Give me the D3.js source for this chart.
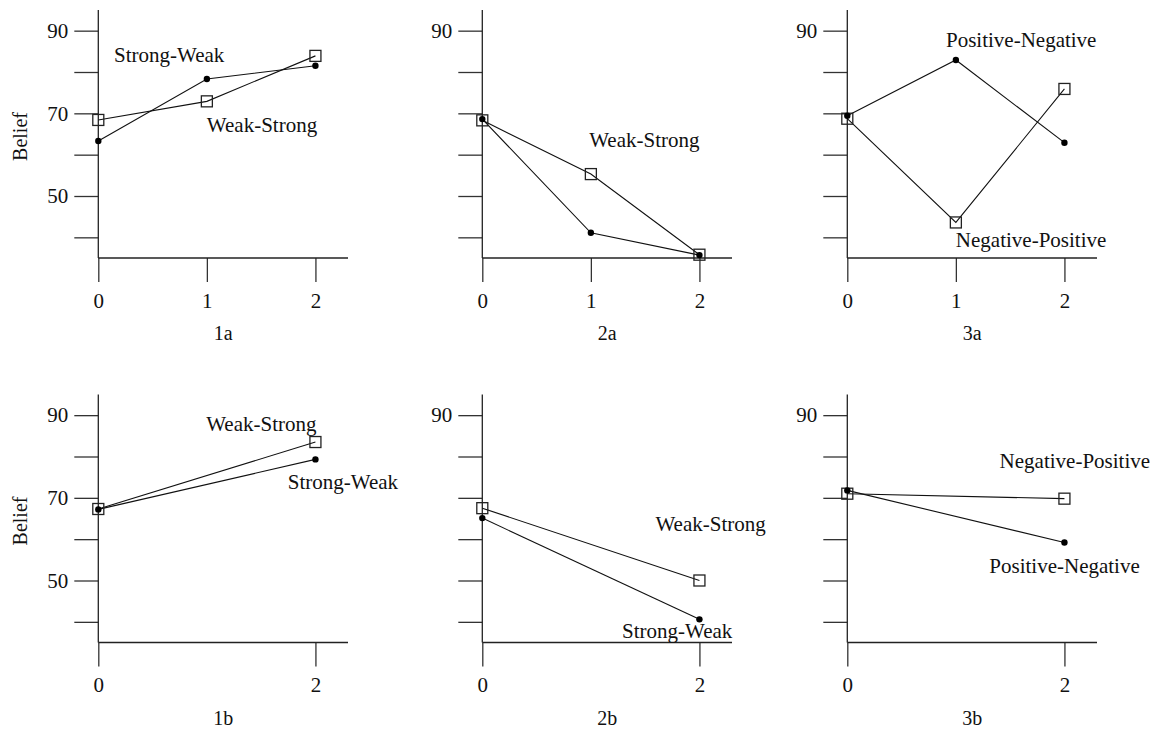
<!DOCTYPE html>
<html>
<head>
<meta charset="utf-8">
<script src="https://cdn.jsdelivr.net/npm/d3@7"></script>
<style>
  html, body { margin: 0; padding: 0; background: #fff; }
  svg { display: block; }
  text { font-family: "Liberation Serif", "Times New Roman", serif; fill: #111; }
</style>
</head>
<body>
<svg id="chart" width="1165" height="731"></svg>
<script>
// ---- data ----
const xTop = [0, 1, 2];
const xBottom = [0, 2];
const yTickValues = [40, 50, 60, 70, 80, 90];
const panelNames = ["1a", "2a", "3a", "1b", "2b", "3b"];

const p1aStrongWeak = [63.3, 78.3, 81.5];
const p1aWeakStrong = [68.4, 72.9, 83.9];
const p2aStrongWeak = [68.6, 41.1, 35.7];
const p2aWeakStrong = [68.3, 55.3, 35.8];
const p3aPositiveNegative = [69.4, 82.9, 62.9];
const p3aNegativePositive = [68.7, 43.6, 75.9];
const p1bStrongWeak = [67.2, 79.3];
const p1bWeakStrong = [67.3, 83.5];
const p2bStrongWeak = [65.1, 40.6];
const p2bWeakStrong = [67.5, 50.0];
const p3bPositiveNegative = [71.8, 59.2];
const p3bNegativePositive = [71.0, 69.8];

// label anchors in data units [text, x, y]
const p1aLabels = [["Strong-Weak", 0.145, 82.35], ["Weak-Strong", 1.0, 65.55]];
const p2aLabels = [["Weak-Strong", 0.985, 61.9]];
const p3aLabels = [["Positive-Negative", 0.909, 86.1], ["Negative-Positive", 1.0, 37.7]];
const p1bLabels = [["Weak-Strong", 0.994, 86.2], ["Strong-Weak", 1.745, 72.1]];
const p2bLabels = [["Weak-Strong", 1.595, 62.05], ["Strong-Weak", 1.287, 36.0]];
const p3bLabels = [["Negative-Positive", 1.403, 77.1], ["Positive-Negative", 1.308, 51.9]];

// ---- layout ----
const svg = d3.select("#chart");
const colX = [98.3, 482.3, 847.3];
const rowY = [0, 384.5];
const plotW = 249.7, plotTop = 10, plotBottom = 258;

const panels = [
  { name: panelNames[0], col: 0, row: 0, xs: xTop, circ: p1aStrongWeak, sq: p1aWeakStrong, labels: p1aLabels, yLabels: [90, 70, 50], belief: true },
  { name: panelNames[1], col: 1, row: 0, xs: xTop, circ: p2aStrongWeak, sq: p2aWeakStrong, labels: p2aLabels, yLabels: [90] },
  { name: panelNames[2], col: 2, row: 0, xs: xTop, circ: p3aPositiveNegative, sq: p3aNegativePositive, labels: p3aLabels, yLabels: [90] },
  { name: panelNames[3], col: 0, row: 1, xs: xBottom, circ: p1bStrongWeak, sq: p1bWeakStrong, labels: p1bLabels, yLabels: [90, 70, 50], belief: true },
  { name: panelNames[4], col: 1, row: 1, xs: xBottom, circ: p2bStrongWeak, sq: p2bWeakStrong, labels: p2bLabels, yLabels: [90] },
  { name: panelNames[5], col: 2, row: 1, xs: xBottom, circ: p3bPositiveNegative, sq: p3bNegativePositive, labels: p3bLabels, yLabels: [90] }
];

const FS = 21;

panels.forEach(p => {
  const g = svg.append("g").attr("transform", `translate(${colX[p.col]},${rowY[p.row]})`);
  const x = d3.scaleLinear().domain([0, 2.3]).range([0, plotW]);
  const y = d3.scaleLinear().domain([35, 95]).range([plotBottom, plotTop]);

  // y axis
  const yAxis = d3.axisLeft(y).tickValues(yTickValues).tickSize(24).tickPadding(6)
    .tickFormat(v => p.yLabels.includes(v) ? String(v) : "");
  const ga = g.append("g").call(yAxis);
  ga.select(".domain").remove();
  ga.selectAll(".tick line").attr("stroke", "#333").attr("stroke-width", 1.3);
  ga.selectAll(".tick text").style("font-size", FS + "px").style("font-family", "Liberation Serif").attr("fill", "#111");
  g.append("line").attr("x1", 0).attr("x2", 0).attr("y1", plotTop).attr("y2", plotBottom)
    .attr("stroke", "#222").attr("stroke-width", 1.3);

  // x axis
  const xAxis = d3.axisBottom(x).tickValues(p.xs).tickSize(24).tickPadding(11).tickFormat(d3.format("d"));
  const gx = g.append("g").attr("transform", `translate(0,${plotBottom})`).call(xAxis);
  gx.select(".domain").remove();
  gx.selectAll(".tick line").attr("stroke", "#333").attr("stroke-width", 1.3);
  gx.selectAll(".tick text").style("font-size", FS + "px").style("font-family", "Liberation Serif").attr("fill", "#111");
  g.append("line").attr("x1", 0).attr("x2", plotW).attr("y1", plotBottom).attr("y2", plotBottom)
    .attr("stroke", "#222").attr("stroke-width", 1.3);

  // panel name
  g.append("text").attr("x", plotW / 2).attr("y", 340).attr("text-anchor", "middle")
    .style("font-size", "20px").text(p.name);

  if (p.belief) {
    g.append("text").attr("transform", `translate(${27 - colX[p.col]},136.5) rotate(-90)`)
      .attr("text-anchor", "middle").style("font-size", "20px").text("Belief");
  }

  const line = d3.line().x((d, i) => x(p.xs[i])).y(d => y(d));
  g.append("path").datum(p.sq).attr("d", line).attr("fill", "none").attr("stroke", "#111").attr("stroke-width", 1.1);
  g.append("path").datum(p.circ).attr("d", line).attr("fill", "none").attr("stroke", "#111").attr("stroke-width", 1.1);

  const s = 11;
  g.selectAll("rect.sq").data(p.sq).enter().append("rect").attr("class", "sq")
    .attr("x", (d, i) => x(p.xs[i]) - s / 2).attr("y", d => y(d) - s / 2)
    .attr("width", s).attr("height", s).attr("fill", "none").attr("stroke", "#222").attr("stroke-width", 1.3);
  g.selectAll("circle.pt").data(p.circ).enter().append("circle").attr("class", "pt")
    .attr("cx", (d, i) => x(p.xs[i])).attr("cy", d => y(d)).attr("r", 3.2).attr("fill", "#000");

  p.labels.forEach(l => {
    g.append("text").attr("x", x(l[1])).attr("y", y(l[2])).style("font-size", FS + "px").text(l[0]);
  });
});
</script>
</body>
</html>
